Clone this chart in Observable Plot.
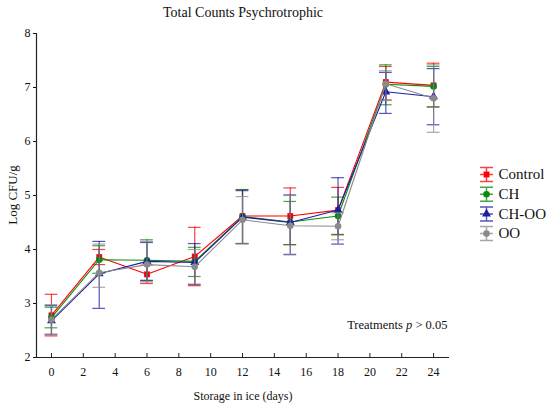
<!DOCTYPE html>
<html>
<head>
<meta charset="utf-8">
<script src="https://cdn.jsdelivr.net/npm/d3@7"></script>
<script src="https://cdn.jsdelivr.net/npm/@observablehq/plot@0.6"></script>
<style>
  html, body { margin: 0; padding: 0; background: #fff; }
  #chart svg, #chart svg text { font-family: "Liberation Serif", serif !important; }
</style>
</head>
<body>
<div id="chart"></div>
<script>
const days = [0, 3, 6, 9, 12, 15, 18, 21, 24];
const seriesNames = ["Control", "CH", "CH-OO", "OO"];
const seriesColors = ["#ff0000", "#0a8a0a", "#1c1ca6", "#8a8a8a"];
const seriesSymbols = ["square", "circle", "triangle", "circle"];

const controlMean = [2.78, 3.86, 3.54, 3.87, 4.62, 4.62, 4.73, 7.10, 7.04];
const controlHi   = [3.17, 4.00, 3.71, 4.41, 5.11, 5.14, 5.15, 7.39, 7.45];
const controlLo   = [2.40, 3.72, 3.37, 3.33, 4.11, 4.09, 4.28, 6.77, 6.64];

const chMean = [2.74, 3.81, 3.80, 3.78, 4.61, 4.51, 4.62, 7.06, 7.02];
const chHi   = [2.93, 4.07, 4.18, 4.04, 5.11, 4.89, 4.97, 7.42, 7.39];
const chLo   = [2.55, 3.56, 3.42, 3.50, 4.11, 4.09, 4.27, 6.68, 6.64];

const chooMean = [2.68, 3.55, 3.78, 3.76, 4.60, 4.50, 4.73, 6.92, 6.83];
const chooHi   = [2.96, 4.15, 4.13, 4.11, 5.09, 5.01, 5.33, 7.28, 7.35];
const chooLo   = [2.43, 2.91, 3.43, 3.35, 4.11, 3.91, 4.10, 6.52, 6.31];

const ooMean = [2.70, 3.57, 3.72, 3.68, 4.55, 4.44, 4.43, 7.07, 6.80];
const ooHi   = [2.98, 4.10, 4.15, 4.00, 4.98, 5.00, 4.68, 7.31, 7.42];
const ooLo   = [2.42, 3.30, 3.40, 3.36, 4.11, 3.90, 4.18, 6.76, 6.17];

const xTicks = [0, 2, 4, 6, 8, 10, 12, 14, 16, 18, 20, 22, 24];
const yTicks = [2, 3, 4, 5, 6, 7, 8];

const means = [controlMean, chMean, chooMean, ooMean];
const his = [controlHi, chHi, chooHi, ooHi];
const los = [controlLo, chLo, chooLo, ooLo];

const rows = [];
seriesNames.forEach((s, i) => {
  days.forEach((d, j) => {
    rows.push({series: s, day: d, mean: means[i][j], hi: his[i][j], lo: los[i][j]});
  });
});

const FONT = "Liberation Serif, serif";
const capHalf = 0.4; // cap half-width in days

const marks = [];
// axes lines
marks.push(Plot.ruleY([2], {stroke: "#222", strokeWidth: 1.2}));
marks.push(Plot.ruleX([-0.94], {stroke: "#222", strokeWidth: 1.2}));
// inward x ticks
marks.push(Plot.ruleX(xTicks, {x: d => d, insetTop: 320, stroke: "#222"}));
marks.push(Plot.axisX({ticks: xTicks, tickSize: 0, tickPadding: 10, label: null, fontSize: 12, fontFamily: FONT, tickFormat: d3.format("d")}));
marks.push(Plot.axisY({ticks: yTicks, tickSize: 3, tickPadding: 3, label: null, fontSize: 12, fontFamily: FONT, tickFormat: d3.format("d")}));

seriesNames.forEach((s, i) => {
  const data = rows.filter(r => r.series === s);
  const c = seriesColors[i];
  marks.push(Plot.ruleX(data, {x: "day", y1: "lo", y2: "hi", stroke: c, strokeOpacity: 0.75, strokeWidth: 1.2}));
  marks.push(Plot.ruleY(data, {y: "hi", x1: d => d.day - capHalf, x2: d => d.day + capHalf, stroke: c, strokeOpacity: 0.75, strokeWidth: 1.2}));
  marks.push(Plot.ruleY(data, {y: "lo", x1: d => d.day - capHalf, x2: d => d.day + capHalf, stroke: c, strokeOpacity: 0.75, strokeWidth: 1.2}));
  marks.push(Plot.line(data, {x: "day", y: "mean", stroke: c, strokeWidth: 1.1}));
  marks.push(Plot.dot(data, {x: "day", y: "mean", fill: c, symbol: () => seriesSymbols[i], r: 3.3}));
});

// legend
const errSym = {
  draw(ctx, size) {
    const w = 6.5, h = 7;
    ctx.moveTo(0, -h); ctx.lineTo(0, h);
    ctx.moveTo(-w, -h); ctx.lineTo(w, -h);
    ctx.moveTo(-w, h); ctx.lineTo(w, h);
    ctx.moveTo(-w, 0); ctx.lineTo(w, 0);
  }
};
seriesNames.forEach((s, i) => {
  const dy = 141 + i * 19.7;
  marks.push(Plot.dot([s], {frameAnchor: "top-right", dx: 37, dy, symbol: errSym, stroke: seriesColors[i], strokeOpacity: 0.75, fill: "none", r: 4}));
  marks.push(Plot.dot([s], {frameAnchor: "top-right", dx: 37, dy, symbol: seriesSymbols[i], fill: seriesColors[i], r: 3.3}));
  marks.push(Plot.text([s], {frameAnchor: "top-right", dx: 49, dy, text: d => d, textAnchor: "start", lineAnchor: "middle", fontSize: 15, fontFamily: FONT, fill: "#111"}));
});

// title & labels
marks.push(Plot.text(["Total Counts Psychrotrophic"], {frameAnchor: "top", dy: -21, lineAnchor: "middle", text: d => d, fontSize: 14, fontFamily: FONT, fill: "#111"}));
marks.push(Plot.text(["Storage in ice (days)"], {frameAnchor: "bottom", dy: 39, lineAnchor: "middle", text: d => d, fontSize: 12, fontFamily: FONT, fill: "#111"}));
marks.push(Plot.text(["Log CFU/g"], {frameAnchor: "left", textAnchor: "middle", lineAnchor: "middle", text: d => d, fontSize: 13, fontFamily: FONT, fill: "#111"}));
marks.push(Plot.text(["Treatments p > 0.05"], {frameAnchor: "bottom-right", dx: -2, dy: -33, textAnchor: "end", lineAnchor: "middle", text: d => d, fontSize: 12.5, fontFamily: FONT, fill: "#111"}));

const chart = Plot.plot({
  width: 550,
  height: 407,
  marginLeft: 36,
  marginRight: 101,
  marginTop: 33,
  marginBottom: 50,
  x: {domain: [-0.94, 25.0]},
  y: {domain: [2, 8]},
  style: {fontFamily: FONT, color: "#111", background: "#fff"},
  marks
});
document.getElementById("chart").appendChild(chart);

// italic p
d3.select(chart).selectAll("text").filter(function() { return this.textContent === "Treatments p > 0.05"; })
  .each(function() {
    const t = d3.select(this);
    t.text(null);
    t.append("tspan").text("Treatments ");
    t.append("tspan").attr("font-style", "italic").text("p");
    t.append("tspan").text(" > 0.05");
  });

// rotate the y-axis title and place it left of the tick labels
d3.select(chart).selectAll("text").filter(function() { return this.textContent === "Log CFU/g"; })
  .each(function() {
    const g = this.parentNode;
    if (g && g.removeAttribute) g.removeAttribute("transform");
    this.setAttribute("transform", "translate(13,195) rotate(-90)");
    this.removeAttribute("x");
    this.setAttribute("text-anchor", "middle");
  });
</script>
</body>
</html>
